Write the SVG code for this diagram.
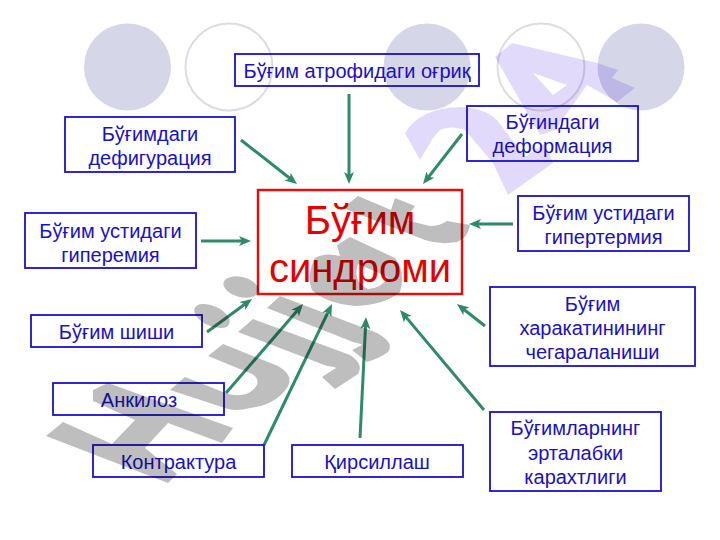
<svg xmlns="http://www.w3.org/2000/svg" width="720" height="540" viewBox="0 0 720 540">
<style>
.lbl{font-family:"Liberation Sans",Arial,sans-serif;font-size:20px;fill:#1a10c8;text-anchor:middle}
.big{font-family:"Liberation Sans",Arial,sans-serif;font-size:40px;fill:#e60000;text-anchor:middle}
.box{fill:none;stroke:#1a10d0;stroke-width:1.800}
.red{fill:none;stroke:#e01010;stroke-width:2.500}
.c{fill:#d6d6e9}
.o{fill:none;stroke:#dcdce4;stroke-width:2}
.a{stroke:#2f8a68;stroke-width:3;fill:none;marker-end:url(#h)}
.g{fill:#bebebe}
.p{fill:#e2dafb}
.wm{mix-blend-mode:multiply}
</style>
<defs>
<marker id="h" markerUnits="userSpaceOnUse" markerWidth="14" markerHeight="12" viewBox="0 -6 14 12" refX="6" refY="0" orient="auto"><path d="M0,-5 L12,0 L0,5 L3,0 Z" fill="#2f8a68"/></marker>
</defs>
<rect width="720" height="540" fill="#fff"/>
<g id="decor">
<circle class="c" cx="127.500" cy="67" r="43.500"/>
<circle class="o" cx="229" cy="67" r="43.500"/>
<circle class="c" cx="427" cy="67" r="43.500"/>
<circle class="o" cx="541" cy="67" r="43.500"/>
<circle class="c" cx="641" cy="67" r="43.500"/>
</g>
<g id="connectors">
<line class="a" x1="241" y1="140" x2="292.300" y2="180.300"/>
<line class="a" x1="349" y1="94" x2="349" y2="178"/>
<line class="a" x1="462" y1="134" x2="426.700" y2="179.300"/>
<line class="a" x1="513" y1="224" x2="475" y2="224"/>
<line class="a" x1="201" y1="241" x2="245" y2="241"/>
<line class="a" x1="207" y1="332" x2="247.200" y2="302.500"/>
<line class="a" x1="226" y1="393" x2="299.100" y2="308.500"/>
<line class="a" x1="264" y1="445" x2="329.400" y2="309.400"/>
<line class="a" x1="360" y1="438" x2="365.700" y2="323"/>
<line class="a" x1="484" y1="410" x2="403.900" y2="314.600"/>
<line class="a" x1="485" y1="326" x2="461.700" y2="307.700"/>
</g>
<g id="n-atrofiya"><rect class="box" x="235" y="54" width="244" height="32"/><text class="lbl" x="357" y="78">Бўғим атрофидаги оғриқ</text></g>
<g id="n-defiguratsiya"><rect class="box" x="65" y="117" width="170" height="55"/><text class="lbl" x="150" y="141">Бўғимдаги</text><text class="lbl" x="150" y="165">дефигурация</text></g>
<g id="n-deformatsiya"><rect class="box" x="467" y="106" width="171" height="55"/><text class="lbl" x="552.500" y="129">Бўғиндаги</text><text class="lbl" x="552.500" y="153">деформация</text></g>
<g id="n-gipertermiya"><rect class="box" x="518" y="196" width="171" height="55"/><text class="lbl" x="603.500" y="220">Бўғим устидаги</text><text class="lbl" x="603.500" y="244">гипертермия</text></g>
<g id="n-giperemiya"><rect class="box" x="25" y="213" width="171" height="55"/><text class="lbl" x="110.500" y="238">Бўғим устидаги</text><text class="lbl" x="110.500" y="262">гиперемия</text></g>
<g id="n-shishi"><rect class="box" x="31" y="315" width="171" height="32"/><text class="lbl" x="116.500" y="339">Бўғим шиши</text></g>
<g id="n-ankiloz"><rect class="box" x="53" y="383" width="171" height="32"/><text class="lbl" x="139" y="407">Анкилоз</text></g>
<g id="n-kontraktura"><rect class="box" x="93" y="445" width="171" height="32"/><text class="lbl" x="178.500" y="469">Контрактура</text></g>
<g id="n-qirsillash"><rect class="box" x="292" y="445" width="171" height="32"/><text class="lbl" x="377" y="469">Қирсиллаш</text></g>
<g id="n-harakat"><rect class="box" x="490" y="287" width="205" height="79"/><text class="lbl" x="592.500" y="311">Бўғим</text><text class="lbl" x="592.500" y="335">харакатинининг</text><text class="lbl" x="592.500" y="359">чегараланиши</text></g>
<g id="n-karakhtlik"><rect class="box" x="490" y="412" width="171" height="79"/><text class="lbl" x="575.500" y="435">Бўғимларнинг</text><text class="lbl" x="575.500" y="460">эрталабки</text><text class="lbl" x="575.500" y="484">карахтлиги</text></g>
<g id="n-sindrom"><rect class="red" x="258" y="190" width="204" height="104"/><text class="big" x="360" y="234">Бўғим</text><text class="big" x="360" y="282">синдроми</text></g>
<g id="watermark" class="wm">
<path class="g" d="M46,436 L63,422 L112,444 L135,420 L93,401 L93,390 L108,383 L233,428 L222,443 L168,423 L145,448 L177,474 L168,483 Z"/>
<path class="g" d="M208,356 L223,344 L278,366 Q295,376 287,388 Q275,405 250,408 Q235,412 225,408 L170,390 L185,377 L228,394 Q245,398 254,389 Q262,380 252,374 Z"/>
<path class="g" d="M238,332 L253,319 L350,355 Q364,364 358,374 L335,389 L322,377 L336,368 Q336,367 327,366 Z"/>
<path class="g" d="M267,308 L280,296 L377,333 Q395,343 388,352 Q380,358 367,362 L352,350 L362,345 Q362,344 353,342 Z"/>
<ellipse class="g" cx="212" cy="316" rx="19" ry="10" transform="rotate(25 212 316)"/>
<ellipse class="g" cx="241" cy="287" rx="18" ry="10" transform="rotate(15 241 287)"/>
<path class="g" fill-rule="evenodd" d="M337,245 L350,237 L395,258 Q406,272 400,292 Q385,305 355,306 Q325,303 312,290 Q306,275 315,258 Q325,252 340,256 Z M358,264 L388,277 Q382,288 368,289 Q352,282 358,264 Z"/>
<path class="g" d="M343,208 L358,196 L391,210 L395,198 L415,206 L405,220 L430,226 Q440,226 447,221 L470,225 Q468,238 457,242 Q440,245 425,240 Z"/>
<path class="p" d="M405,133 Q420,108 460,107 Q485,108 497,120 L525,157 L545,143 L553,163 L508,195 L493,163 L465,130 Q450,125 440,130 L433,138 L420,160 Z"/>
<path class="p" fill-rule="evenodd" d="M495,57 L512,43 L597,63 L618,70 L612,78 L635,88 L617,102 L587,85 L555,130 L540,135 Z M533,73 L567,85 L553,95 Z"/>
</g>
</svg>
